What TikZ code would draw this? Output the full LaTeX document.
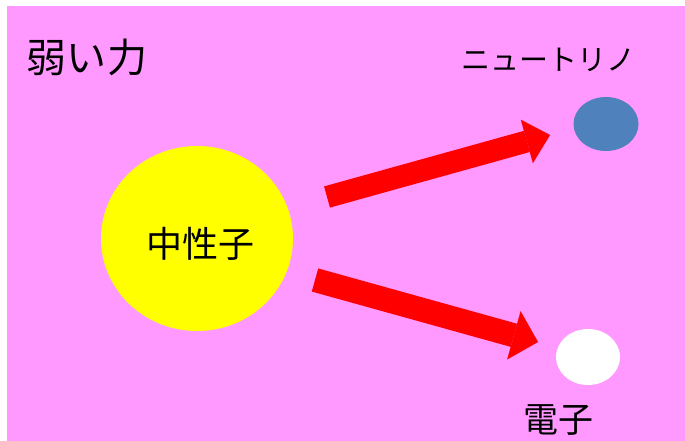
\documentclass[tikz,border=0pt]{standalone}
\usepackage{fontspec}
\setmainfont{Noto Sans CJK JP}
\usetikzlibrary{arrows.meta,shapes.geometric}
\definecolor{bgpink}{HTML}{FF99FF}
\definecolor{nublue}{HTML}{4F81BD}
\definecolor{nyellow}{HTML}{FFFF00}
\tikzset{
  particle/.style={ellipse, inner sep=0pt},
  label/.style={inner sep=0pt, text=black},
  bigarrow/.style={red, line width=#1},
}
\begin{document}
\begin{tikzpicture}[x=1pt,y=-1pt]
\useasboundingbox (0,0) rectangle (685,441);
\fill[bgpink] (7,6) rectangle (685,441);
\node[label, font=\fontsize{40}{40}\selectfont] (title) at (87,57) {弱い力};
\node[particle, fill=nyellow, minimum width=192pt, minimum height=185pt] (neutron) at (197,238.5) {};
\node[label, font=\fontsize{36}{36}\selectfont] (nlab) at (200,244) {中性子};
\node[particle, fill=nublue, minimum width=65pt, minimum height=54pt] (nu) at (606,124) {};
\node[particle, fill=white, minimum width=64pt, minimum height=56pt] (el) at (588,357) {};
\node[label, font=\fontsize{29}{29}\selectfont] (nulab) at (548,60) {ニュートリノ};
\node[label, font=\fontsize{35}{35}\selectfont] (ellab) at (558,420) {電子};
\coordinate (a1s) at (327,197);
\coordinate (a1e) at (550,135);
\coordinate (a2s) at (315,280);
\coordinate (a2e) at (538,342);
\draw[bigarrow=22pt, -{Triangle[length=24pt,width=45pt,line width=0.1pt]}] (a1s) -- (a1e);
\draw[bigarrow=24pt, -{Triangle[length=25pt,width=50pt,line width=0.1pt]}] (a2s) -- (a2e);
\end{tikzpicture}
\end{document}
